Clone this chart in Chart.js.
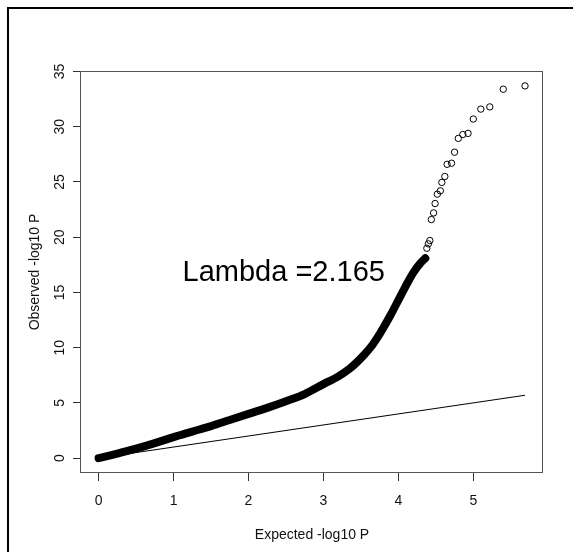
<!doctype html>
<html lang="en">
<head>
  <meta charset="utf-8">
  <title>QQ plot</title>
  <style>
    * { margin: 0; padding: 0; }
    body { background: #fff; width: 573px; height: 552px; overflow: hidden; position: relative; }
    #frame {
      position: absolute; left: 7px; top: 7px; width: 600px; height: 600px;
      border-top: 2px solid #000; border-left: 2px solid #000;
      pointer-events: none;
    }
  </style>
</head>
<body>
  <canvas id="qq" width="573" height="552"></canvas>
  <div id="frame"></div>
  <script src="https://cdn.jsdelivr.net/npm/chart.js/dist/chart.umd.min.js"></script>
  <script>
    // dense part of the observed vs expected curve
    const bandX = [0, 0.1, 0.25, 0.5, 0.75, 1.0, 1.25, 1.5, 1.75, 2.0, 2.25, 2.5, 2.75, 3.0, 3.2, 3.35, 3.45, 3.55, 3.65, 3.72, 3.8, 3.9, 4.0, 4.1, 4.2, 4.3, 4.36];
    const bandY = [0, 0.15, 0.4, 0.85, 1.35, 1.9, 2.4, 2.9, 3.45, 4.0, 4.55, 5.15, 5.8, 6.7, 7.4, 8.1, 8.7, 9.4, 10.2, 10.9, 11.8, 13.0, 14.3, 15.6, 16.8, 17.7, 18.1];

    // sparse top tail, one circle each
    const tailX = [4.38, 4.40, 4.42, 4.44, 4.47, 4.49, 4.52, 4.56, 4.58, 4.62, 4.65, 4.71, 4.75, 4.80, 4.86, 4.93, 5.00, 5.10, 5.22, 5.40, 5.69];
    const tailY = [19.0, 19.4, 19.7, 21.6, 22.2, 23.05, 23.9, 24.2, 24.96, 25.5, 26.6, 26.7, 27.7, 28.95, 29.3, 29.4, 30.7, 31.6, 31.8, 33.4, 33.7];

    // y = x reference line
    const diagX = [0, 5.69];
    const diagY = [0, 5.69];

    const xTicks = [0, 1, 2, 3, 4, 5];
    const yTicks = [0, 5, 10, 15, 20, 25, 30, 35];
    const lambdaText = 'Lambda =2.165';

    const pts = (xs, ys) => xs.map((x, i) => ({ x, y: ys[i] }));
    const FONT = 'Liberation Sans, Arial, sans-serif';

    const boxPlugin = {
      id: 'boxPlugin',
      afterDraw(chart) {
        const { ctx, chartArea: a, scales } = chart;
        ctx.save();
        ctx.strokeStyle = '#555';
        ctx.lineWidth = 1;
        ctx.strokeRect(Math.round(a.left) - 0.5, Math.round(a.top) + 0.5,
          Math.round(a.right - a.left), Math.round(a.bottom - a.top) - 1);
        // lambda label
        ctx.fillStyle = '#000';
        ctx.font = '29px ' + FONT;
        ctx.textAlign = 'center';
        ctx.textBaseline = 'middle';
        ctx.fillText(lambdaText, scales.x.getPixelForValue(2.47), scales.y.getPixelForValue(16.8));
        ctx.restore();
      }
    };

    new Chart(document.getElementById('qq'), {
      type: 'scatter',
      data: {
        datasets: [
          {
            data: pts(diagX, diagY),
            showLine: true,
            borderColor: '#000',
            borderWidth: 1,
            pointRadius: 0
          },
          {
            data: pts(bandX, bandY),
            showLine: true,
            borderColor: '#000',
            borderWidth: 8,
            borderCapStyle: 'round',
            borderJoinStyle: 'round',
            cubicInterpolationMode: 'monotone',
            pointRadius: 0
          },
          {
            data: pts(tailX, tailY),
            borderColor: '#000',
            backgroundColor: 'rgba(0,0,0,0)',
            borderWidth: 1,
            pointRadius: 3.2
          }
        ]
      },
      options: {
        responsive: false,
        animation: false,
        layout: { padding: { left: 0, top: 71, right: 30, bottom: 0 } },
        plugins: { legend: { display: false }, tooltip: { enabled: false } },
        scales: {
          x: {
            type: 'linear',
            min: -0.235,
            max: 5.93,
            afterBuildTicks: s => { s.ticks = xTicks.map(v => ({ value: v })); },
            afterFit: s => { s.height = 79; },
            grid: { drawOnChartArea: false, drawTicks: true, tickLength: 8, color: '#333' },
            border: { display: false },
            ticks: { color: '#111', padding: 12, font: { family: FONT, size: 14 } },
            title: {
              display: true,
              text: 'Expected -log10 P',
              color: '#111',
              font: { family: FONT, size: 14 },
              padding: { top: 0, bottom: 8 }
            }
          },
          y: {
            type: 'linear',
            min: -1.35,
            max: 35.05,
            afterBuildTicks: s => { s.ticks = yTicks.map(v => ({ value: v })); },
            afterFit: s => { s.width = 81; },
            grid: { drawOnChartArea: false, drawTicks: true, tickLength: 8, color: '#333' },
            border: { display: false },
            ticks: {
              color: '#111',
              minRotation: 90,
              maxRotation: 90,
              crossAlign: 'center',
              padding: 5,
              font: { family: FONT, size: 14 }
            },
            title: {
              display: true,
              text: 'Observed -log10 P',
              color: '#111',
              font: { family: FONT, size: 14 },
              padding: { top: 27, bottom: 0 }
            }
          }
        }
      },
      plugins: [boxPlugin]
    });
  </script>
</body>
</html>
